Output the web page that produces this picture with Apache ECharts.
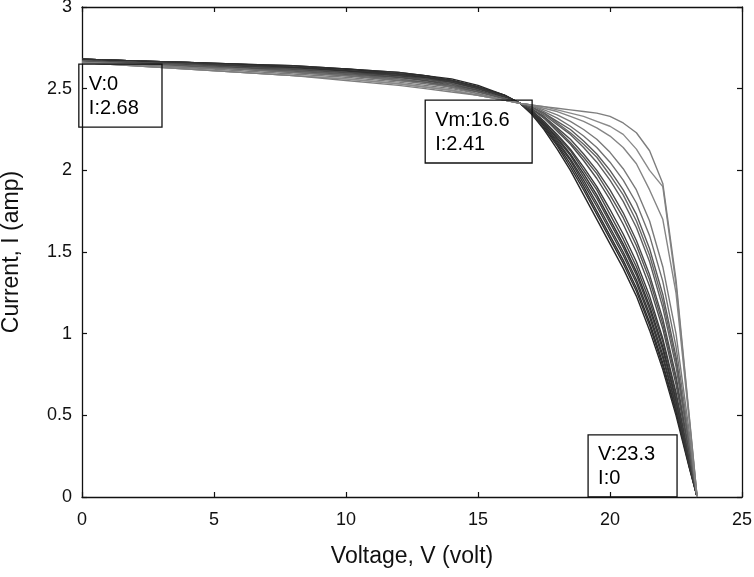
<!DOCTYPE html>
<html>
<head>
<meta charset="utf-8">
<script src="https://cdn.jsdelivr.net/npm/echarts@6/dist/echarts.min.js"></script>
<style>
  html, body { margin: 0; padding: 0; background: #fff; }
  #main { width: 754px; height: 577px; }
</style>
</head>
<body>
<div id="main"></div>
<script>
// voltage samples shared by all curves (volt)
var voltage = [0, 2, 4, 6, 8, 10, 12, 13, 14, 15, 16, 16.6, 17, 17.5, 18, 18.5, 19, 19.5, 20, 20.5, 21, 21.5, 22, 22.5, 23, 23.3];

var curve1  = [2.68,2.67,2.66,2.65,2.64,2.62,2.60,2.58,2.56,2.52,2.46,2.41, 2.35,2.25,2.13,2.00,1.85,1.70,1.55,1.40,1.23,1.02,0.78,0.50,0.18,0];
var curve2  = [2.68,2.67,2.66,2.65,2.64,2.62,2.60,2.58,2.55,2.51,2.46,2.41, 2.35,2.26,2.15,2.02,1.88,1.73,1.58,1.43,1.26,1.05,0.80,0.52,0.19,0];
var curve3  = [2.68,2.67,2.66,2.65,2.63,2.62,2.59,2.58,2.55,2.51,2.46,2.41, 2.36,2.27,2.16,2.04,1.90,1.75,1.60,1.45,1.28,1.07,0.82,0.53,0.19,0];
var curve4  = [2.68,2.67,2.66,2.64,2.63,2.61,2.59,2.57,2.55,2.51,2.45,2.41, 2.36,2.28,2.17,2.06,1.92,1.78,1.63,1.48,1.31,1.10,0.85,0.55,0.20,0];
var curve5  = [2.68,2.67,2.66,2.64,2.63,2.61,2.59,2.57,2.55,2.51,2.45,2.41, 2.36,2.28,2.18,2.07,1.94,1.80,1.65,1.50,1.33,1.12,0.87,0.56,0.20,0];
var curve6  = [2.68,2.67,2.65,2.64,2.63,2.61,2.58,2.57,2.54,2.50,2.45,2.41, 2.37,2.29,2.19,2.09,1.96,1.83,1.68,1.53,1.36,1.15,0.90,0.58,0.21,0];
var curve7  = [2.68,2.67,2.65,2.64,2.63,2.61,2.58,2.57,2.54,2.50,2.45,2.41, 2.37,2.29,2.20,2.10,1.98,1.85,1.70,1.55,1.38,1.17,0.92,0.60,0.22,0];
var curve8  = [2.67,2.66,2.65,2.64,2.62,2.60,2.58,2.56,2.54,2.50,2.45,2.41, 2.37,2.30,2.21,2.12,2.00,1.88,1.73,1.58,1.41,1.20,0.95,0.62,0.23,0];
var curve9  = [2.67,2.66,2.65,2.64,2.62,2.60,2.58,2.56,2.54,2.50,2.45,2.41, 2.37,2.30,2.22,2.13,2.02,1.90,1.76,1.61,1.44,1.23,0.97,0.64,0.24,0];
var curve10 = [2.67,2.66,2.65,2.63,2.62,2.60,2.57,2.56,2.53,2.49,2.44,2.41, 2.38,2.32,2.24,2.16,2.06,1.95,1.82,1.67,1.50,1.29,1.03,0.69,0.26,0];
var curve11 = [2.67,2.66,2.64,2.63,2.61,2.59,2.57,2.55,2.53,2.49,2.44,2.41, 2.38,2.32,2.25,2.17,2.08,1.98,1.85,1.71,1.54,1.33,1.06,0.72,0.27,0];
var curve12 = [2.67,2.66,2.64,2.63,2.61,2.59,2.57,2.55,2.52,2.49,2.44,2.41, 2.38,2.33,2.26,2.19,2.10,2.00,1.88,1.74,1.57,1.36,1.09,0.74,0.28,0];
var curve13 = [2.67,2.65,2.64,2.62,2.61,2.59,2.56,2.54,2.52,2.48,2.44,2.41, 2.39,2.34,2.28,2.22,2.14,2.05,1.94,1.81,1.65,1.44,1.16,0.80,0.31,0];
var curve14 = [2.67,2.65,2.64,2.62,2.60,2.58,2.56,2.54,2.51,2.48,2.44,2.41, 2.39,2.35,2.29,2.23,2.16,2.08,1.97,1.85,1.69,1.48,1.20,0.83,0.32,0];
var curve15 = [2.67,2.65,2.64,2.62,2.60,2.58,2.55,2.54,2.51,2.48,2.44,2.41, 2.39,2.35,2.30,2.25,2.18,2.10,2.00,1.88,1.73,1.52,1.24,0.86,0.33,0];
var curve16 = [2.66,2.65,2.63,2.62,2.60,2.58,2.55,2.53,2.51,2.47,2.43,2.41, 2.40,2.36,2.32,2.27,2.21,2.14,2.05,1.94,1.80,1.60,1.32,0.92,0.36,0];
var curve17 = [2.66,2.65,2.63,2.61,2.59,2.57,2.54,2.52,2.50,2.47,2.43,2.41, 2.40,2.37,2.34,2.30,2.25,2.19,2.11,2.01,1.88,1.69,1.41,1.00,0.40,0];
var curve18 = [2.66,2.64,2.62,2.60,2.58,2.56,2.53,2.51,2.49,2.46,2.43,2.41, 2.40,2.38,2.36,2.33,2.30,2.26,2.21,2.14,2.04,1.88,1.70,1.25,0.47,0];
var curve19 = [2.66,2.64,2.62,2.60,2.58,2.56,2.53,2.51,2.49,2.46,2.43,2.41, 2.40,2.39,2.37,2.35,2.33,2.30,2.27,2.22,2.13,2.00,1.90,1.30,0.49,0];
var curve20 = [2.66,2.64,2.62,2.60,2.58,2.55,2.52,2.50,2.48,2.46,2.43,2.41, 2.40,2.39,2.38,2.37,2.36,2.35,2.33,2.29,2.23,2.12,1.92,1.33,0.50,0];

var curves = [curve1, curve2, curve3, curve4, curve5, curve6, curve7, curve8, curve9, curve10,
              curve11, curve12, curve13, curve14, curve15, curve16, curve17, curve18, curve19, curve20];
var lineColors = ['#262626','#303030','#2b2b2b','#383838','#333333','#404040','#2f2f2f','#454545','#3a3a3a','#4d4d4d',
                  '#555555','#4a4a4a','#5e5e5e','#666666','#5a5a5a','#707070','#7a7a7a','#858585','#8a8a8a','#7e7e7e'];

// annotated points: label text and box corners in volt/amp
var noteText = [['V:0', 'I:2.68'], ['Vm:16.6', 'I:2.41'], ['V:23.3', 'I:0']];
var noteBox = [
  [[-0.12, 2.65], [3.03, 2.265]],
  [[13.0, 2.43], [17.05, 2.045]],
  [[19.17, 0.38], [22.54, 0]]
];

var xTicks = [0, 25, 5];   // min, max, step
var yTicks = [0, 3, 0.5];

var font = '"Liberation Sans", Arial, sans-serif';
var chart = echarts.init(document.getElementById('main'));

var series = [];
for (var i = 0; i < curves.length; i++) {
  var pts = [];
  for (var j = 0; j < voltage.length; j++) {
    pts.push([voltage[j], curves[i][j]]);
  }
  series.push({
    type: 'line',
    data: pts,
    showSymbol: false,
    lineStyle: { color: lineColors[i], width: 1.4 },
    z: 2
  });
}

var axisCommon = {
  type: 'value',
  axisLine: { show: true, onZero: false, lineStyle: { color: '#111', width: 1.3 } },
  axisTick: { show: true, inside: true, length: 5, lineStyle: { color: '#111', width: 1.2 } },
  splitLine: { show: false }
};

chart.setOption({
  animation: false,
  backgroundColor: '#fff',
  grid: { left: 82, right: 12, top: 7, bottom: 80, containLabel: false, outerBoundsMode: 'none' },
  xAxis: [
    Object.assign({}, axisCommon, {
      min: xTicks[0], max: xTicks[1], interval: xTicks[2],
      position: 'bottom',
      name: 'Voltage, V (volt)',
      nameLocation: 'middle',
      nameGap: 48,
      nameTextStyle: { color: '#111', fontFamily: font, fontSize: 23 },
      axisLabel: { color: '#111', fontFamily: font, fontSize: 18, margin: 14 }
    }),
    Object.assign({}, axisCommon, {
      min: xTicks[0], max: xTicks[1], interval: xTicks[2],
      position: 'top',
      axisLabel: { show: false }
    })
  ],
  yAxis: [
    Object.assign({}, axisCommon, {
      min: yTicks[0], max: yTicks[1], interval: yTicks[2],
      position: 'left',
      name: 'Current, I (amp)',
      nameLocation: 'middle',
      nameGap: 59,
      nameTextStyle: { color: '#111', fontFamily: font, fontSize: 23 },
      axisLabel: { color: '#111', fontFamily: font, fontSize: 18, margin: 10 }
    }),
    Object.assign({}, axisCommon, {
      min: yTicks[0], max: yTicks[1], interval: yTicks[2],
      position: 'right',
      axisLabel: { show: false }
    })
  ],
  series: series
});

// annotation boxes, placed from data coordinates
var graphics = [];
for (var k = 0; k < noteText.length; k++) {
  var p0 = chart.convertToPixel({ xAxisIndex: 0, yAxisIndex: 0 }, noteBox[k][0]);
  var p1 = chart.convertToPixel({ xAxisIndex: 0, yAxisIndex: 0 }, noteBox[k][1]);
  graphics.push({
    type: 'rect',
    shape: { x: p0[0], y: p0[1], width: p1[0] - p0[0], height: p1[1] - p0[1] },
    style: { fill: 'rgba(255,255,255,0)', stroke: '#111', lineWidth: 1.3 },
    z: 10
  });
  for (var n = 0; n < noteText[k].length; n++) {
    graphics.push({
      type: 'text',
      x: p0[0] + 10,
      y: p0[1] + 20 + n * 24,
      style: {
        text: noteText[k][n],
        fill: '#000',
        font: '20px ' + font,
        textVerticalAlign: 'middle'
      },
      z: 11
    });
  }
}
chart.setOption({ graphic: graphics });
</script>
</body>
</html>
